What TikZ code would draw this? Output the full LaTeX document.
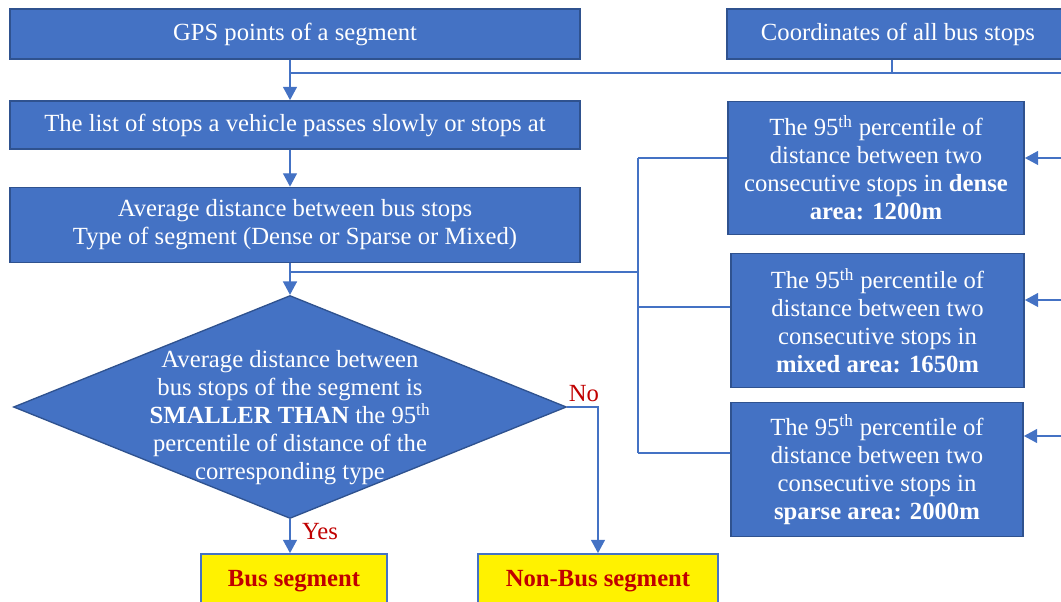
\documentclass[tikz,border=0pt]{standalone}
\usepackage{fontspec}
\setmainfont{Liberation Serif}
\usepackage{xcolor}
\usepackage{tikz}
\usetikzlibrary{calc}
\usetikzlibrary{shapes.geometric,arrows.meta}

\definecolor{boxblue}{HTML}{4472C4}
\definecolor{boxedge}{HTML}{2F528F}
\definecolor{darkred}{HTML}{C00000}

\begin{document}
\begin{tikzpicture}[x=0.75pt,y=-0.75pt,
        font=\fontsize{18.5}{21}\selectfont,
        >={Triangle[width=10.5pt,length=10pt]},
        blue box/.style={draw=boxedge,line width=1.3pt,fill=boxblue,text=white,align=center,inner sep=0pt},
        result box/.style={draw=boxblue,line width=1.3pt,fill=yellow,text=darkred,font=\fontsize{18.5}{21}\selectfont\bfseries,inner sep=0pt},
        decision/.style={diamond,draw=boxedge,line width=1pt,fill=boxblue,inner sep=0pt},
        line/.style={draw=boxblue,line width=1pt},
        answer/.style={text=darkred,inner sep=0pt}]
        \useasboundingbox (0,0) rectangle (1061,602);

        % input boxes
        \node [blue box,minimum width=427.5pt,minimum height=37.5pt] (gps) at (295,34) {GPS points of a segment};
        \node [blue box,minimum width=256.5pt,minimum height=37.5pt] (coords) at (898,34) {Coordinates of all bus stops};
        \node [blue box,minimum width=427.5pt,minimum height=36pt] (list) at (295,125) {The list of stops a vehicle passes slowly or stops at};
        \node [blue box,minimum width=427.5pt,minimum height=56.25pt] (avg) at (295,225) {Average distance between bus stops\\Type of segment (Dense or Sparse or Mixed)};

        % thresholds
        \node [blue box,minimum width=222pt,minimum height=99.75pt] (dense) at (876,168) {The 95\textsuperscript{th} percentile of\\distance between two\\consecutive stops in \textbf{dense}\\\textbf{area: 1200m}};
        \node [blue box,minimum width=219.75pt,minimum height=100.5pt] (mixed) at (877.5,320.5) {The 95\textsuperscript{th} percentile of\\distance between two\\consecutive stops in\\\textbf{mixed area: 1650m}};
        \node [blue box,minimum width=219pt,minimum height=100.5pt] (sparse) at (877,469.5) {The 95\textsuperscript{th} percentile of\\distance between two\\consecutive stops in\\\textbf{sparse area: 2000m}};

        % decision
        \node [decision,minimum width=414.75pt,minimum height=167.25pt] (test) at (290,407) {};
        \node [text=white,align=center,inner sep=0pt] (testtxt) at (290,418) {Average distance between\\bus stops of the segment is\\\textbf{SMALLER THAN} the 95\textsuperscript{th}\\percentile of distance of the\\corresponding type};

        % results
        \node [result box,minimum width=139.5pt,minimum height=40.5pt] (bus) at (294,581) {Bus segment};
        \node [result box,minimum width=180pt,minimum height=40.5pt] (nonbus) at (598,581) {Non-Bus segment};

        % connectors
        \coordinate (busjoin) at (892,73);
        \coordinate (edgeA) at (1061,73);
        \coordinate (split) at (638,272);
        \coordinate (dL) at (638,158);
        \coordinate (mL) at (638,307);
        \coordinate (sL) at (638,453);
        \coordinate (dR) at (1061,158);
        \coordinate (mR) at (1061,300);
        \coordinate (sR) at (1061,436);

        \draw [line,->] (gps.south -| test.north) -- (list.north -| test.north);
        \draw [line] (coords.south -| busjoin) -- (busjoin);
        \draw [line] (busjoin -| test.north) -- (edgeA);
        \draw [line,->] (list.south -| test.north) -- (avg.north -| test.north);
        \draw [line,->] (avg.south -| test.north) -- (test.north);
        \draw [line] (split -| test.north) -- (split);
        \draw [line] (dL) -- (sL);
        \draw [line] (dL) -- (dense.west |- dL);
        \draw [line] (mL) -- (mixed.west |- mL);
        \draw [line] (sL) -- (sparse.west |- sL);
        \draw [line,->] (dR) -- (dense.east |- dR);
        \draw [line,->] (mR) -- (mixed.east |- mR);
        \draw [line,->] (sR) -- (sparse.east |- sR);

        \draw [line,->] (test.south) -- (bus.north -| test.south);
        \draw [line,->] (test.east) -| (nonbus.north);
        \node [answer] (yes) at (320,532) {Yes};
        \node [answer] (no) at (584,394) {No};
    \end{tikzpicture}
\end{document}
